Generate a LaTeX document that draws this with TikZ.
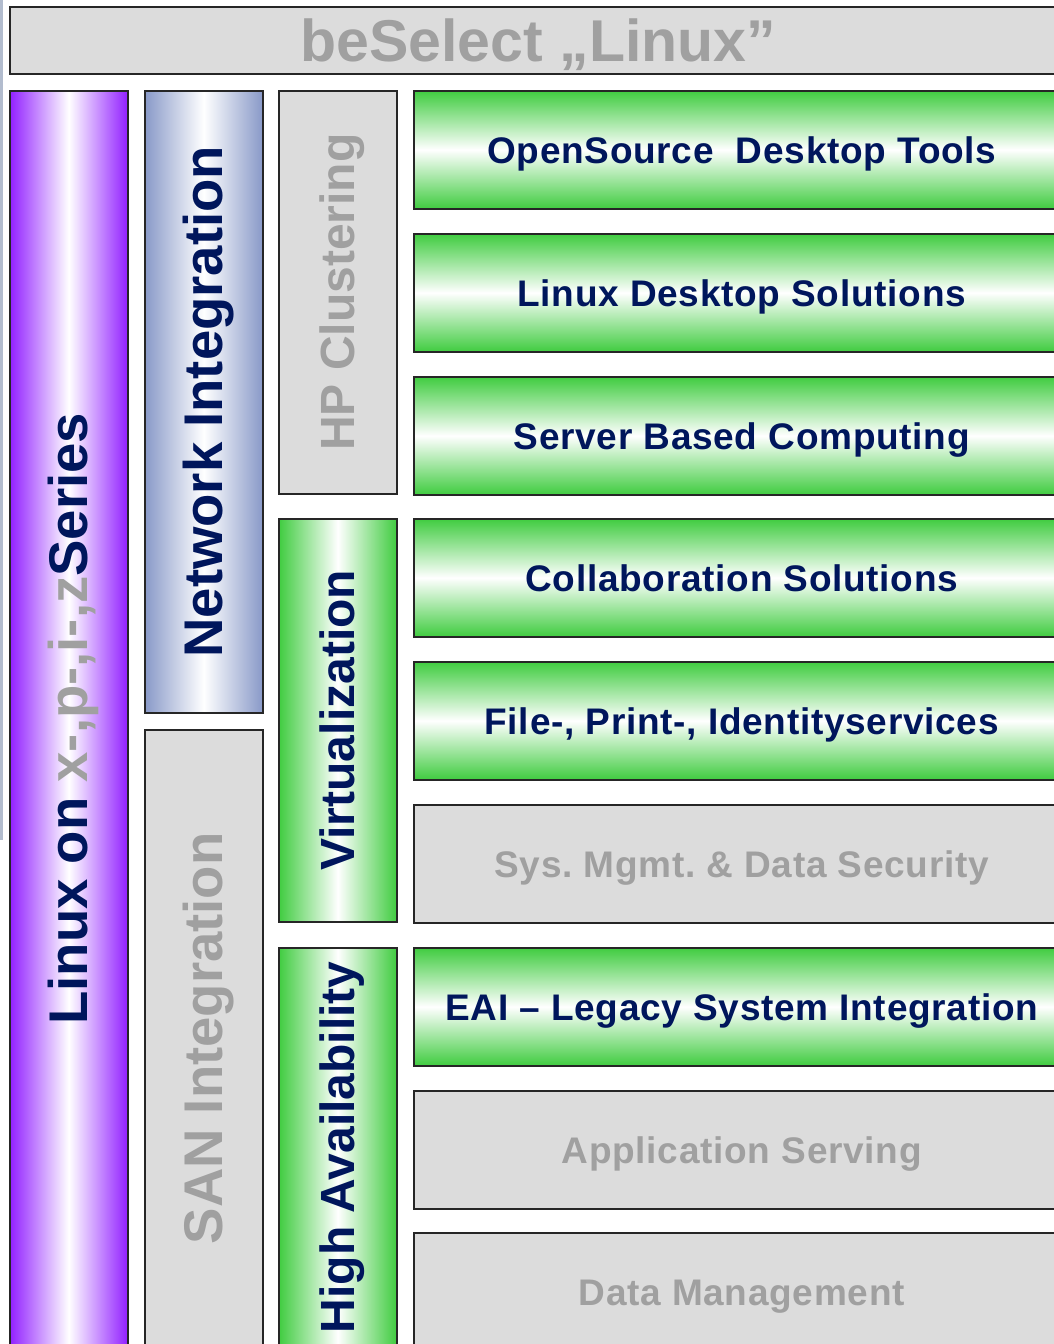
\documentclass[tikz,border=0pt]{standalone}
\usepackage{fontspec}
\setmainfont{Liberation Sans}
\usetikzlibrary{positioning}
\definecolor{navy}{RGB}{0,22,92}
\definecolor{greytext}{RGB}{160,160,160}
\definecolor{greyfill}{RGB}{220,220,220}
\definecolor{hpgreen}{RGB}{64,204,64}
\definecolor{lilac}{RGB}{146,32,255}
\definecolor{steel}{RGB}{136,153,200}
\definecolor{edgeblue}{RGB}{178,188,206}
\newcommand{\vtext}[1]{\rotatebox{90}{\smash{#1}\vphantom{H}}}
\tikzset{
  box/.style={draw=black!85, line width=1.5pt, inner sep=0pt, anchor=north west},
  greybox/.style={box, fill=greyfill, text=greytext},
  rowgreen/.style={box, top color=hpgreen, bottom color=hpgreen, middle color=white, text=navy},
  colgreen/.style={box, left color=hpgreen, right color=hpgreen, middle color=white, text=navy},
  rowbox/.style={minimum width=656pt, minimum height=118pt, text height=26.5pt, text depth=0pt,
    font=\fontsize{37}{40}\selectfont\bfseries\addfontfeatures{LetterSpace=2}},
  colbox/.style={minimum width=118pt},
  bigcol/.style={colbox, font=\fontsize{54.5}{60}\selectfont\bfseries},
  midcol/.style={colbox, font=\fontsize{48}{52}\selectfont\bfseries},
}

\begin{document}
\frenchspacing
\begin{tikzpicture}[x=1pt,y=-1pt]
        \useasboundingbox (0,0) rectangle (1053,1344);
        \fill[edgeblue] (0,0) rectangle (2.5,840);

        % title bar
        \node (title) [greybox, minimum width=1057pt, minimum height=67pt, text height=42pt,
          text depth=-5pt, font=\fontsize{59}{64}\selectfont\bfseries] at (9,6) {beSelect „Linux”};

        % vertical columns
        \node (series) [box, bigcol, minimum height=1256pt, left color=lilac, right color=lilac,
          middle color=white, text=navy] at (9,90)
          {\vtext{Linux on \textcolor{greytext}{x-,p-,i-,z}Series}};
        \node (network) [box, bigcol, minimum height=622pt, left color=steel, right color=steel,
          middle color=white, text=navy] at (144,90) {\vtext{Network Integration}};
        \node (san) [greybox, bigcol, minimum height=617pt] at (144,729) {\vtext{SAN Integration}};
        \node (cluster) [greybox, midcol, minimum height=403pt] at (278,90) {\vtext{HP Clustering}};
        \node (virt) [colgreen, midcol, minimum height=403pt] at (278,518) {\vtext{Virtualization}};
        \node (avail) [colgreen, midcol, minimum height=399pt] at (278,947) {\vtext{High Availability}};

        % service rows
        \node (desktoptools) [rowgreen, rowbox] at (413,90) {OpenSource\ \ Desktop Tools};
        \node (desktopsol) [rowgreen, rowbox] at (413,233) {Linux Desktop Solutions};
        \node (sbc) [rowgreen, rowbox] at (413,376) {Server Based Computing};
        \node (collab) [rowgreen, rowbox] at (413,518) {Collaboration Solutions};
        \node (fileprint) [rowgreen, rowbox] at (413,661) {File-, Print-, Identityservices};
        \node (sysmgmt) [greybox, rowbox] at (413,804) {Sys. Mgmt. \& Data Security};
        \node (eai) [rowgreen, rowbox] at (413,947) {EAI -- Legacy System Integration};
        \node (appserv) [greybox, rowbox] at (413,1090) {Application Serving};
        \node (datamgmt) [greybox, rowbox] at (413,1232) {Data Management};
\end{tikzpicture}
\end{document}
